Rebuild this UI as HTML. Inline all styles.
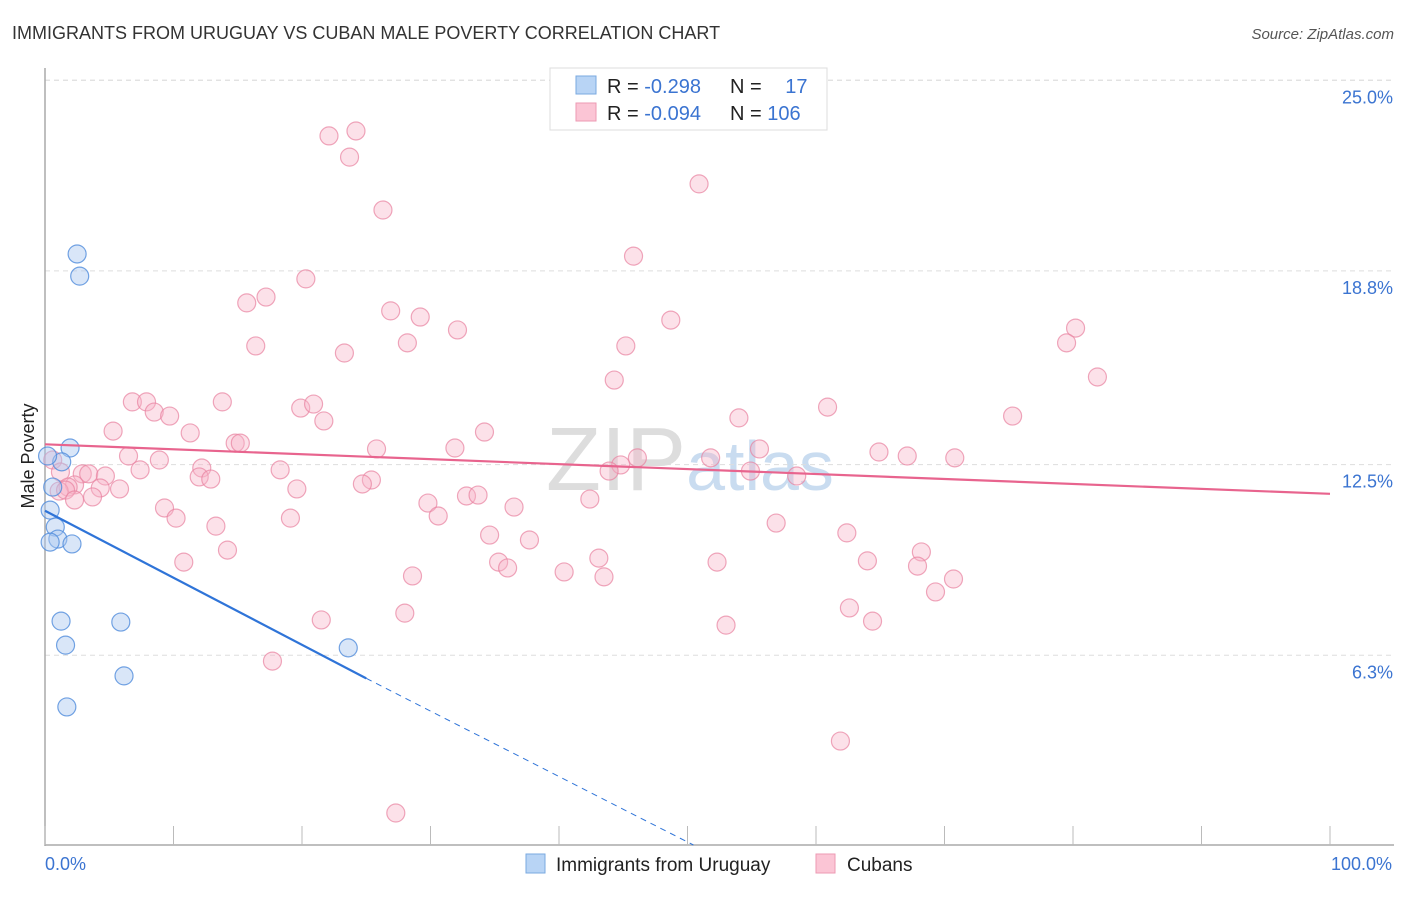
<!DOCTYPE html>
<html><head><meta charset="utf-8"><style>
body{margin:0;background:#fff;font-family:"Liberation Sans",sans-serif}
svg text{font-family:"Liberation Sans",sans-serif}
</style></head><body>
<svg id="chart" width="1406" height="892" xmlns="http://www.w3.org/2000/svg">
<text x="12" y="39" font-size="18" fill="#333">IMMIGRANTS FROM URUGUAY VS CUBAN MALE POVERTY CORRELATION CHART</text>
<text x="1394" y="39" font-size="15" fill="#555" text-anchor="end" font-style="italic">Source: ZipAtlas.com</text>
<text x="690" y="490" font-size="90" fill="#ddd" text-anchor="middle" font-family="Liberation Serif">ZIP<tspan fill="#c9dcf0" font-family="Liberation Sans" font-size="70">atlas</tspan></text>
<g id="grid"></g>
<g id="axes"></g>
<g id="pinkpts"></g>
<g id="bluepts"></g>
<g id="lines"></g>
<text transform="translate(34,456) rotate(-90)" font-size="18" fill="#222" text-anchor="middle">Male Poverty</text>
<g>
<rect x="550" y="68" width="277" height="62" fill="#fff" stroke="#ddd"/>
<rect x="576" y="76" width="20" height="18" fill="#b8d4f5" stroke="#7aaae0"/>
<rect x="576" y="103" width="20" height="18" fill="#fbc5d5" stroke="#ec9ab3"/>
<text x="607" y="93" font-size="20" fill="#222">R = <tspan fill="#3b74d1">-0.298</tspan></text>
<text x="730" y="93" font-size="20" fill="#222">N = <tspan fill="#3b74d1" dx="18">17</tspan></text>
<text x="607" y="120" font-size="20" fill="#222">R = <tspan fill="#3b74d1">-0.094</tspan></text>
<text x="730" y="120" font-size="20" fill="#222">N = <tspan fill="#3b74d1">106</tspan></text>
</g>
<g>
<rect x="526" y="854" width="19" height="19" fill="#b8d4f5" stroke="#7aaae0"/>
<text x="556" y="871" font-size="19" fill="#222">Immigrants from Uruguay</text>
<rect x="816" y="854" width="19" height="19" fill="#fbc5d5" stroke="#ec9ab3"/>
<text x="847" y="871" font-size="19" fill="#222">Cubans</text>
</g>
</svg>
<script>
const yTicks=[25.0,18.8,12.5,6.3];
const yTickLabels=["25.0%","18.8%","12.5%","6.3%"];
const xTickLabels=["0.0%","100.0%"];
const blueX=[2.5,2.7,1.95,1.3,0.6,0.4,0.8,1.0,0.4,2.1,1.25,5.9,1.6,23.6,6.15,1.7,0.2];
const blueY=[19.35,18.63,13.04,12.59,11.77,11.02,10.47,10.08,9.98,9.92,7.41,7.38,6.63,6.54,5.63,4.62,12.78];
const pinkX=[22.1,24.2,23.7,26.3,50.9,45.8,20.3,17.2,15.7,26.9,29.2,32.1,48.7,16.4,28.2,23.3,45.2,80.2,79.5,81.9,44.3,6.8,7.9,8.5,9.7,13.8,19.9,20.9,21.7,5.3,11.3,14.8,15.2,25.8,31.9,34.2,54.0,60.9,75.3,55.6,64.9,67.1,70.8,51.8,46.1,44.8,43.9,54.9,58.5,6.5,8.9,0.6,1.2,2.9,3.4,4.7,7.4,12.2,12.0,12.9,18.3,25.4,24.7,2.3,1.8,4.3,5.8,19.6,1.1,1.6,3.7,2.3,32.8,33.7,29.8,36.5,42.4,9.3,10.2,19.1,30.6,13.3,56.9,34.6,37.7,62.4,14.2,10.8,35.3,36.0,43.1,40.4,43.5,28.6,52.3,64.0,68.2,67.9,70.7,69.3,28.0,62.6,21.5,64.4,53.0,17.7,61.9,27.3];
const pinkY=[23.19,23.35,22.50,20.78,21.63,19.28,18.54,17.95,17.76,17.50,17.30,16.88,17.20,16.36,16.46,16.13,16.36,16.94,16.46,15.35,15.25,14.54,14.54,14.21,14.08,14.54,14.34,14.47,13.92,13.59,13.53,13.20,13.20,13.01,13.04,13.56,14.02,14.37,14.08,13.01,12.91,12.78,12.72,12.72,12.72,12.49,12.29,12.29,12.13,12.78,12.65,12.65,12.26,12.20,12.20,12.13,12.33,12.39,12.10,12.03,12.33,12.00,11.87,11.84,11.77,11.74,11.71,11.71,11.64,11.67,11.45,11.35,11.48,11.51,11.25,11.12,11.38,11.09,10.76,10.76,10.83,10.50,10.60,10.21,10.05,10.28,9.72,9.33,9.33,9.14,9.46,9.01,8.85,8.88,9.33,9.37,9.66,9.20,8.78,8.36,7.67,7.84,7.45,7.41,7.28,6.11,3.51,1.17];
const blueTrend=[11.0,-0.218]; // intercept, slope per %
const pinkTrend=[13.16,-0.0161];
const NS="http://www.w3.org/2000/svg";
const sx=v=>45+v*12.85, sy=v=>849-v*30.75;
function mk(tag,attrs,parent){const e=document.createElementNS(NS,tag);for(const k in attrs)e.setAttribute(k,attrs[k]);parent.appendChild(e);return e;}
const grid=document.getElementById('grid'),axes=document.getElementById('axes');
mk('line',{x1:45,x2:1394,y1:sy(25.0),y2:sy(25.0),stroke:'#ddd','stroke-dasharray':'5,4'},grid);
yTicks.forEach((t,i)=>{
 const l=mk('line',{x1:45,x2:1394,y1:sy(t),y2:sy(t),stroke:'#ddd','stroke-dasharray':'5,4'},grid);
 
 
 const tx=mk('text',{x:1393,y:sy(t)+23,'font-size':18,fill:'#3b74d1','text-anchor':'end'},axes);
 tx.textContent=yTickLabels[i];
 
 
});
const ya=mk('line',{x1:45,x2:45,y1:68,y2:846,stroke:'#aaa','stroke-width':1.5},axes);


const xa=mk('line',{x1:45,x2:1394,y1:845,y2:845,stroke:'#aaa','stroke-width':1.5},axes);


for(let i=0;i<=10;i++){const t=mk('line',{x1:sx(i*10),x2:sx(i*10),y1:826,y2:845,stroke:'#bbb'},axes);
 
 }
[[0,'start'],[100,'end']].forEach((p,i)=>{const t=mk('text',{x:sx(p[0])+(i?62:0),y:870,'font-size':18,fill:'#3b74d1','text-anchor':p[1]},axes);t.textContent=xTickLabels[i];
 
 });
function pts(xs,ys,g,fill,stroke,name){xs.forEach((x,i)=>{const c=mk('circle',{cx:sx(x),cy:sy(ys[i]),r:9,fill:fill,stroke:stroke,'stroke-width':1.2},document.getElementById(g));
 
 });}
pts(pinkX,pinkY,'pinkpts','rgba(248,180,200,0.4)','rgba(232,130,160,0.7)','cubans-point');
pts(blueX,blueY,'bluepts','rgba(170,200,240,0.45)','rgba(80,140,220,0.8)','uruguay-point');
const lg=document.getElementById('lines');
const bEnd=25, bZero=-blueTrend[0]/blueTrend[1];
const b1=mk('line',{x1:sx(0),y1:sy(blueTrend[0]),x2:sx(bEnd),y2:sy(blueTrend[0]+blueTrend[1]*bEnd),stroke:'#2f74d8','stroke-width':2.2},lg);


const b2=mk('line',{x1:sx(bEnd),y1:sy(blueTrend[0]+blueTrend[1]*bEnd),x2:sx(bZero),y2:sy(0)-4,stroke:'#2f74d8','stroke-width':1,'stroke-dasharray':'6,5'},lg);


const p1=mk('line',{x1:sx(0),y1:sy(pinkTrend[0]),x2:sx(100),y2:sy(pinkTrend[0]+pinkTrend[1]*100),stroke:'#e8648e','stroke-width':2.2},lg);


</script>
</body></html>
